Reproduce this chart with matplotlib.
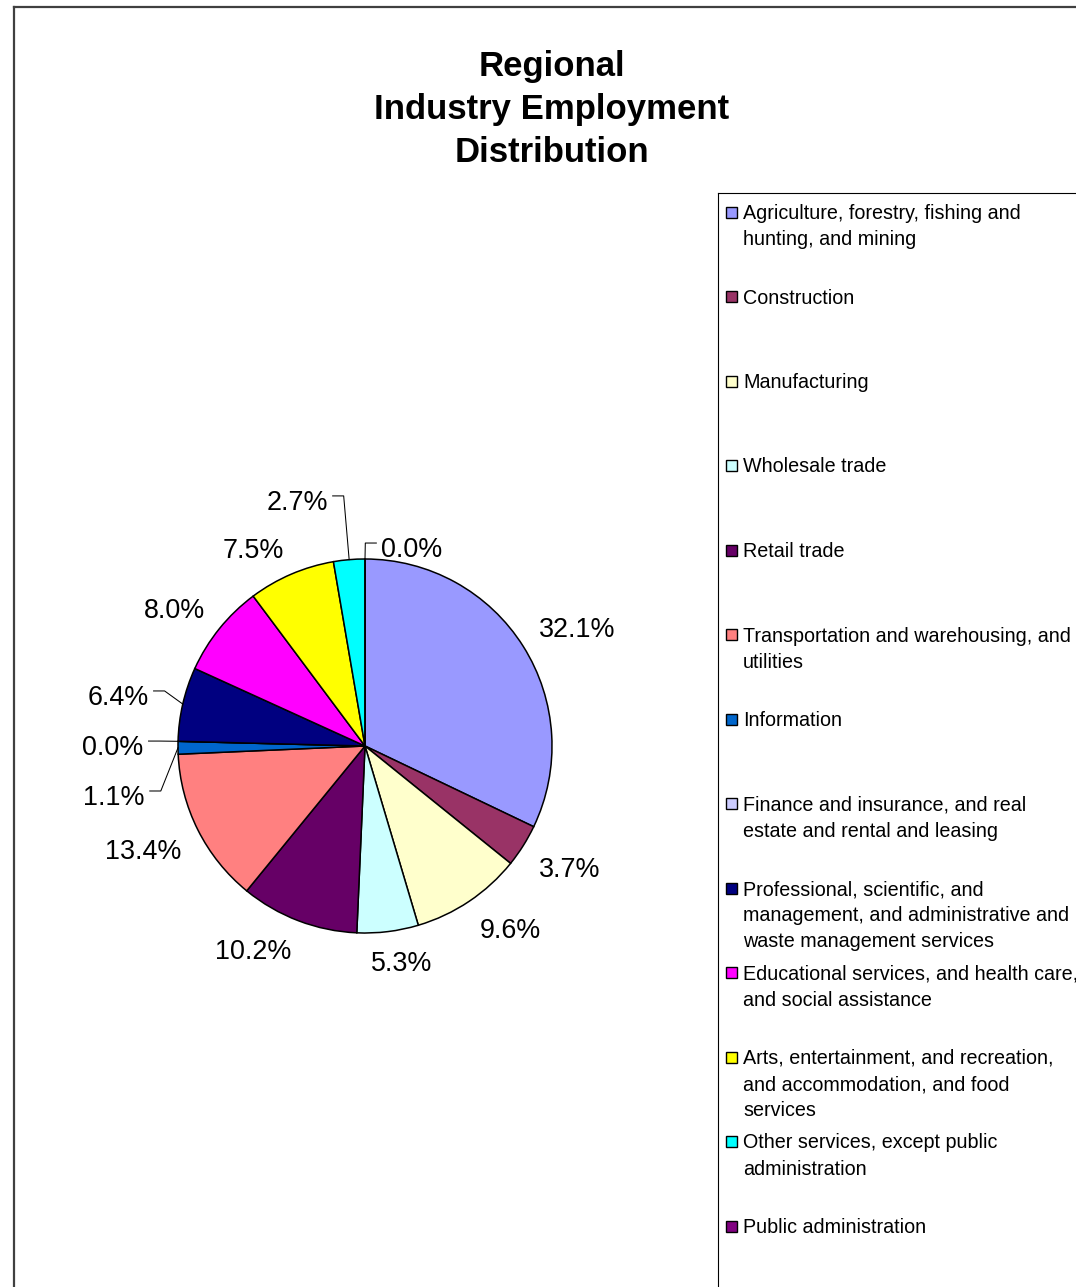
import matplotlib
matplotlib.use('Agg')
import matplotlib.pyplot as plt
from matplotlib.patches import Rectangle
from matplotlib.lines import Line2D
import numpy as np

plt.rcParams['font.family'] = ['Liberation Sans', 'DejaVu Sans']

# ---------------- data ----------------
title = "Regional\nIndustry Employment\nDistribution"
categories = [
    "Agriculture, forestry, fishing and\nhunting, and mining",
    "Construction",
    "Manufacturing",
    "Wholesale trade",
    "Retail trade",
    "Transportation and warehousing, and\nutilities",
    "Information",
    "Finance and insurance, and real\nestate and rental and leasing",
    "Professional, scientific, and\nmanagement, and administrative and\nwaste management services",
    "Educational services, and health care,\nand social assistance",
    "Arts, entertainment, and recreation,\nand accommodation, and food\nservices",
    "Other services, except public\nadministration",
    "Public administration",
]
shares = [32.1, 3.7, 9.6, 5.3, 10.2, 13.4, 1.1, 0.0, 6.4, 8.0, 7.5, 2.7, 0.0]
colors = ['#9999FF', '#993366', '#FFFFCC', '#CCFFFF', '#660066', '#FF8080',
          '#0066CC', '#CCCCFF', '#000080', '#FF00FF', '#FFFF00', '#00FFFF',
          '#800080']

# ---------------- layout ----------------
W, H = 1076, 1287
fig = plt.figure(figsize=(W / 100, H / 100), dpi=100)
fig.patch.set_facecolor('white')


def fx(x):
    return x / W


def fy(y):
    return 1 - y / H


# outer chart border (runs off right/bottom)
fig.add_artist(Line2D([fx(14), fx(W + 5)], [fy(6.5), fy(6.5)], transform=fig.transFigure,
                      color='#404040', lw=1.6))
fig.add_artist(Line2D([fx(14), fx(14)], [fy(6.5), fy(H + 5)], transform=fig.transFigure,
                      color='#404040', lw=1.6))

# title
fig.text(fx(551.5), fy(109.5), title, ha='center', va='center', fontsize=25,
         fontweight='bold', linespacing=1.37)

# pie
cx, cy, R = 365, 746, 187
ax = fig.add_axes([fx(cx - R), fy(cy + R), 2 * R / W, 2 * R / H])
wedges, _ = ax.pie(shares, colors=colors, startangle=90, counterclock=False,
                   radius=1, normalize=True,
                   wedgeprops=dict(edgecolor='black', linewidth=1.1))
ax.set_aspect('auto')
ax.set_xlim(-1, 1)
ax.set_ylim(-1, 1)
ax.set_axis_off()

fig.canvas.draw()
renderer = fig.canvas.get_renderer()
px = R  # pixels per data unit
label_fs = 19.4
text_dy = -3 / px   # visual centring correction for the labels
# labels that Excel moved away from their slice (text centre, in radius units)
moved = {6: (-1.342, -0.262), 7: (-1.348, 0.005), 8: (-1.321, 0.273),
         11: (-0.364, 1.316), 12: (0.251, 1.064)}

for i, (w, v) in enumerate(zip(wedges, shares)):
    theta = np.deg2rad((w.theta1 + w.theta2) / 2)
    u, vv = np.cos(theta), np.sin(theta)
    t = ax.text(0, 0, f"{v:.1f}%", fontsize=label_fs, ha='center', va='center')
    wdt = t.get_window_extent(renderer).width / px
    if i in moved:
        tx, ty = moved[i]
        t.set_position((tx, ty + text_dy))
        side = 1 if u > tx else -1
        x0 = tx + side * (wdt / 2 + 5 / px)
        yl = ty + 4 / px
        x1 = x0 + side * 11 / px
        ax.plot([x0, x1, u], [yl, yl, vv], color='black', lw=0.75, clip_on=False)
    else:
        hgt = 20 / px
        ax_, ay_ = 1.1 * u, 1.1 * vv
        tx = ax_ + wdt / 2 * np.clip(3 * u, -1, 1)
        ty = ay_ + hgt / 2 * np.clip(3 * vv, -1, 1)
        t.set_position((tx, ty + text_dy - 1 / px))

# legend box (runs off right/bottom)
fig.add_artist(Line2D([fx(718), fx(W + 5)], [fy(193), fy(193)], transform=fig.transFigure,
                      color='black', lw=0.8))
fig.add_artist(Line2D([fx(718), fx(718)], [fy(193), fy(H + 5)], transform=fig.transFigure,
                      color='black', lw=0.8))

first_y, step = 212, 84.5
for i, (w, lab) in enumerate(zip(wedges, categories)):
    y = first_y + i * step
    fig.add_artist(Rectangle((fx(725.5), fy(y + 5.5)), 11 / W, 11 / H,
                             transform=fig.transFigure, facecolor=w.get_facecolor(),
                             edgecolor='black', lw=1.0))
    fig.text(fx(743), fy(y - 8), lab, ha='left', va='top', fontsize=14.2,
             linespacing=1.47)

fig.savefig('out.png', dpi=100, facecolor='white')
